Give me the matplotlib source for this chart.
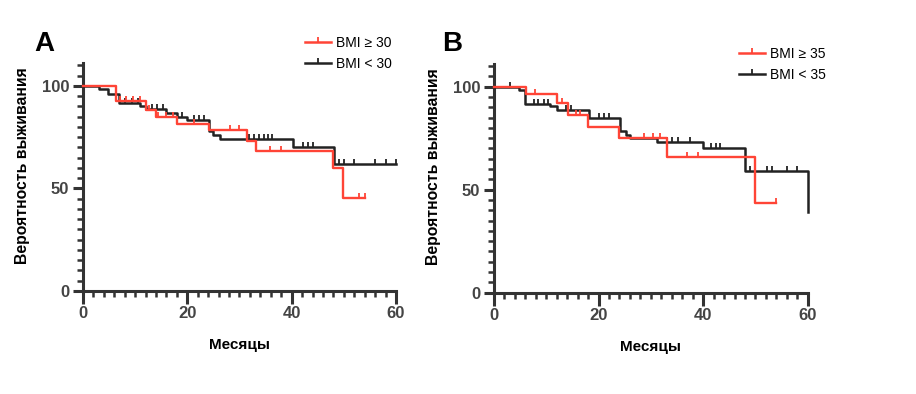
import numpy as np
import matplotlib
matplotlib.use("Agg")
import matplotlib.pyplot as plt
from matplotlib.lines import Line2D
from matplotlib.ticker import MultipleLocator

# ---------------- data ----------------
# Panel A
a_red_t = [0, 6.3, 12.0, 13.9, 18.0, 24.2, 31.4, 33.1, 48.0, 49.9]
a_red_s = [100, 92.7, 88.3, 85.0, 81.5, 78.3, 73.3, 68.0, 60.0, 45.2]
a_red_end = 54.0
a_red_cens = [7.0, 8.2, 9.6, 10.9, 12.6, 14.4, 15.9, 17.2, 21.3, 28.2, 30.0, 35.9, 37.9, 53.0, 54.0]

a_blk_t = [0, 3.1, 4.85, 6.9, 10.9, 12.1, 16.0, 18.0, 19.9, 24.2, 24.9, 26.3, 40.2, 48.2]
a_blk_s = [100, 98.5, 96.0, 91.5, 90.0, 88.5, 86.6, 85.0, 83.4, 78.0, 76.0, 74.0, 70.0, 62.0]
a_blk_end = 60.0
a_blk_cens = [8.0, 9.3, 10.5, 13.2, 14.2, 15.3, 19.0, 21.2, 22.3, 23.2, 31.8, 32.8, 33.8,
              34.7, 35.5, 36.3, 42.2, 43.2, 44.1, 49.1, 50.1, 52.0, 56.0, 58.1, 60.0]

# Panel B
b_red_t = [0, 6.1, 12.1, 14.1, 17.9, 24.0, 33.0, 50.0]
b_red_s = [100, 96.4, 92.1, 86.0, 80.6, 75.2, 65.8, 43.5]
b_red_end = 54.0
b_red_cens = [7.9, 13.0, 15.6, 16.4, 28.6, 30.5, 31.8, 36.9, 39.0, 54.0]

b_blk_t = [0, 4.8, 6.0, 10.7, 12.1, 18.1, 24.1, 25.2, 26.1, 31.1, 40.0, 48.0, 60.0]
b_blk_s = [100, 98.6, 91.6, 90.4, 88.7, 84.7, 78.7, 76.3, 75.2, 73.0, 70.2, 59.0, 39.2]
b_blk_end = 60.0
b_blk_cens = [3.1, 7.6, 8.5, 9.5, 10.4, 13.8, 14.8, 20.1, 21.0, 22.0, 33.1, 34.1, 35.2,
              37.4, 41.5, 42.4, 43.3, 49.0, 52.2, 53.2, 56.1, 58.0]

labels_a = ["BMI \u2265 30", "BMI < 30"]
labels_b = ["BMI \u2265 35", "BMI < 35"]
panel_letters = ["A", "B"]
xlabel = "Месяцы"
ylabel = "Вероятность выживания"
xticks = [0, 20, 40, 60]
yticks = [0, 50, 100]

RED = "#ff4436"
BLK = "#222222"
AXC = "#333333"
TICKC = "#444444"

fig = plt.figure(figsize=(9.16, 3.94), dpi=100)
fig.patch.set_facecolor("white")

tickfont = dict(family=["Liberation Sans", "DejaVu Sans"],
                weight="bold", size=12, color=TICKC)


def surv_at(ts, ss, x):
    idx = np.searchsorted(np.asarray(ts), x, side="right") - 1
    return np.asarray(ss)[idx]


def draw_curve(ax, ts, ss, end, cens, color, lw):
    xs = list(ts) + [end]
    ys = list(ss) + [ss[-1]]
    ax.step(xs, ys, where="post", color=color, lw=lw, clip_on=False, zorder=3)
    cx = np.asarray(cens)
    cy = surv_at(ts, ss, cx)
    ax.plot(cx, cy, linestyle="none", marker=2, ms=3.3, mew=1.3, color=color,
            clip_on=False, zorder=3)


def setup(ax):
    ax.set_xlim(0, 60)
    ax.set_ylim(0, 111)
    for s in ["top", "right"]:
        ax.spines[s].set_visible(False)
    for s in ["left", "bottom"]:
        ax.spines[s].set_color(AXC)
        ax.spines[s].set_linewidth(2.2)
    ax.spines["left"].set_bounds(0, 111)
    ax.set_xticks(xticks)
    ax.set_yticks(yticks)
    ax.xaxis.set_minor_locator(MultipleLocator(2))
    ax.yaxis.set_minor_locator(MultipleLocator(5))
    ax.tick_params(axis="x", which="major", length=9, width=2.2, color=AXC, pad=2)
    ax.tick_params(axis="x", which="minor", length=4.5, width=1.8, color=AXC)
    ax.tick_params(axis="y", which="major", length=7, width=2.2, color=AXC, pad=3)
    ax.tick_params(axis="y", which="minor", length=4, width=1.8, color=AXC)
    ax.set_xticklabels([str(v) for v in xticks], **tickfont)
    ax.set_yticklabels([str(v) for v in yticks], **tickfont)
    ax.set_facecolor("none")


# axes positions (left, bottom, width, height)
axA = fig.add_axes([0.0906, 0.2614, 0.3417, 0.578])
axB = fig.add_axes([0.5393, 0.2571, 0.3425, 0.5805])

for ax, (rt, rs, re, rc), (bt, bs, be, bc), labs, letter in [
    (axA, (a_red_t, a_red_s, a_red_end, a_red_cens), (a_blk_t, a_blk_s, a_blk_end, a_blk_cens),
     labels_a, panel_letters[0]),
    (axB, (b_red_t, b_red_s, b_red_end, b_red_cens), (b_blk_t, b_blk_s, b_blk_end, b_blk_cens),
     labels_b, panel_letters[1]),
]:
    setup(ax)
    draw_curve(ax, bt, bs, be, bc, BLK, 1.8)
    draw_curve(ax, rt, rs, re, rc, RED, 1.7)
    ax.set_xlabel(xlabel, fontsize=11, fontweight="bold",
                  family=["Liberation Sans", "DejaVu Sans"], labelpad=12)
    ax.set_ylabel(ylabel, fontsize=11.3, fontweight="bold",
                  family=["Liberation Sans", "DejaVu Sans"], labelpad=8)
    ax.yaxis.set_label_coords(-0.17, 0.55)

# panel letters
fig.text(34 / 916, 1 - 44 / 394, panel_letters[0], fontsize=20, fontweight="bold",
         family=["Liberation Sans", "DejaVu Sans"], va="center", ha="left")
fig.text(442 / 916, 1 - 44 / 394, panel_letters[1], fontsize=20, fontweight="bold",
         family=["Liberation Sans", "DejaVu Sans"], va="center", ha="left")


def legend(ax, labs, x_px, y_px):
    handles = [Line2D([0], [0], color=RED, lw=1.8, marker=2, ms=3.5, mew=1.3),
               Line2D([0], [0], color=BLK, lw=1.8, marker=2, ms=3.5, mew=1.3)]
    leg = fig.legend(handles, labs, loc="upper left",
                     bbox_to_anchor=(x_px / 916, 1 - y_px / 394),
                     frameon=False, numpoints=1, handlelength=1.9, handletextpad=0.35,
                     labelspacing=0.5, borderpad=0, borderaxespad=0,
                     prop=dict(family=["Liberation Sans", "DejaVu Sans"], size=10))
    return leg


legend(axA, labels_a, 305, 36)
legend(axB, labels_b, 739, 47)

fig.savefig("out.png", dpi=100)
